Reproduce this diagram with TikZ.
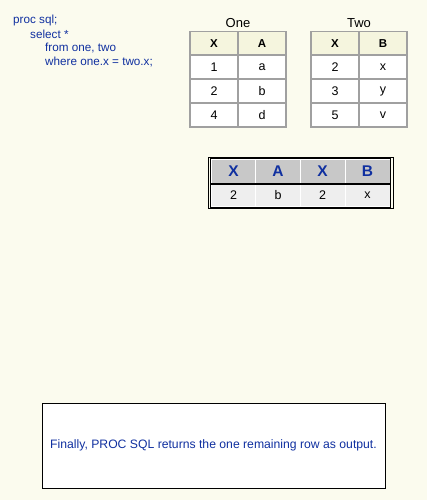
\documentclass[tikz,border=0pt]{standalone}
\usepackage{fontspec}
\setmainfont{Liberation Sans}
\definecolor{codeblue}{RGB}{16,48,160}
\definecolor{paper}{RGB}{251,251,238}
\definecolor{headbeige}{RGB}{245,245,222}
\definecolor{gridgray}{RGB}{160,160,160}
\definecolor{resgray}{RGB}{200,200,200}
\definecolor{reslight}{RGB}{238,238,238}
\tikzset{
	cell/.style={draw=gridgray, line width=1.5pt, fill=white, minimum width=48pt, minimum height=24pt, inner sep=0pt, font=\fontsize{12.5}{14}\selectfont},
	headcell/.style={cell, fill=headbeige, font=\fontsize{11.5}{13}\selectfont\bfseries},
	rescell/.style={draw=white, line width=1pt, fill=reslight, minimum width=45pt, minimum height=22pt, inner sep=0pt, font=\fontsize{12.5}{14}\selectfont},
	reshead/.style={rescell, fill=resgray, minimum height=24pt, text=codeblue, font=\fontsize{15.5}{17}\selectfont\bfseries},
	codeline/.style={anchor=west, inner sep=0pt, text=codeblue, font=\fontsize{11.7}{13}\selectfont},
	title/.style={inner sep=0pt, font=\fontsize{13}{15}\selectfont}
}
\begin{document}
\begin{tikzpicture}[x=1pt, y=-1pt]
				\useasboundingbox [fill=paper] (0,0) rectangle (427,500);
				% query
				\node [codeline] (L1) at (13,20) {proc sql;};
				\node [codeline] (L2) at (30,34) {select *};
				\node [codeline] (L3) at (45,48) {from one, two};
				\node [codeline] (L4) at (45,62) {where one.x = two.x;};
				% table one
				\node [title] (tOne) at (238,23) {One};
				\node [headcell] (oX) at (214,43.5) {X};
				\node [headcell] (oA) at (262,43.5) {A};
				\node [cell] (o11) at (214,67) {1};
				\node [cell] (o12) at (262,67) {a};
				\node [cell] (o21) at (214,91) {2};
				\node [cell] (o22) at (262,91) {b};
				\node [cell] (o31) at (214,115) {4};
				\node [cell] (o32) at (262,115) {d};
				% table two
				\node [title] (tTwo) at (359,23) {Two};
				\node [headcell] (wX) at (335,43.5) {X};
				\node [headcell] (wB) at (383,43.5) {B};
				\node [cell] (w11) at (335,67) {2};
				\node [cell] (w12) at (383,67) {x};
				\node [cell] (w21) at (335,91) {3};
				\node [cell] (w22) at (383,91) {y};
				\node [cell] (w31) at (335,115) {5};
				\node [cell] (w32) at (383,115) {v};
				% result
				\node [reshead] (r1) at (233.5,171) {X};
				\node [reshead] (r2) at (278,171) {A};
				\node [reshead] (r3) at (322.5,171) {X};
				\node [reshead] (r4) at (367.5,171) {B};
				\node [rescell] (s1) at (233.5,195.5) {2};
				\node [rescell] (s2) at (278,195.5) {b};
				\node [rescell] (s3) at (322.5,195.5) {2};
				\node [rescell] (s4) at (367.5,195.5) {x};
				\draw [line width=1pt] (r1.north west) rectangle (r4.south east);
				\draw [line width=1pt] (s1.north west) rectangle (s4.south east);
				\draw [line width=1pt] (208,157) rectangle (393.5,208.5);
				% note
				\node [draw, line width=1pt, fill=white, minimum width=343pt, minimum height=85pt, text=codeblue, font=\fontsize{12.2}{14}\selectfont] (note) at (213.5,445.5) {Finally, PROC SQL returns the one remaining row as output.};
			\end{tikzpicture}
\end{document}
